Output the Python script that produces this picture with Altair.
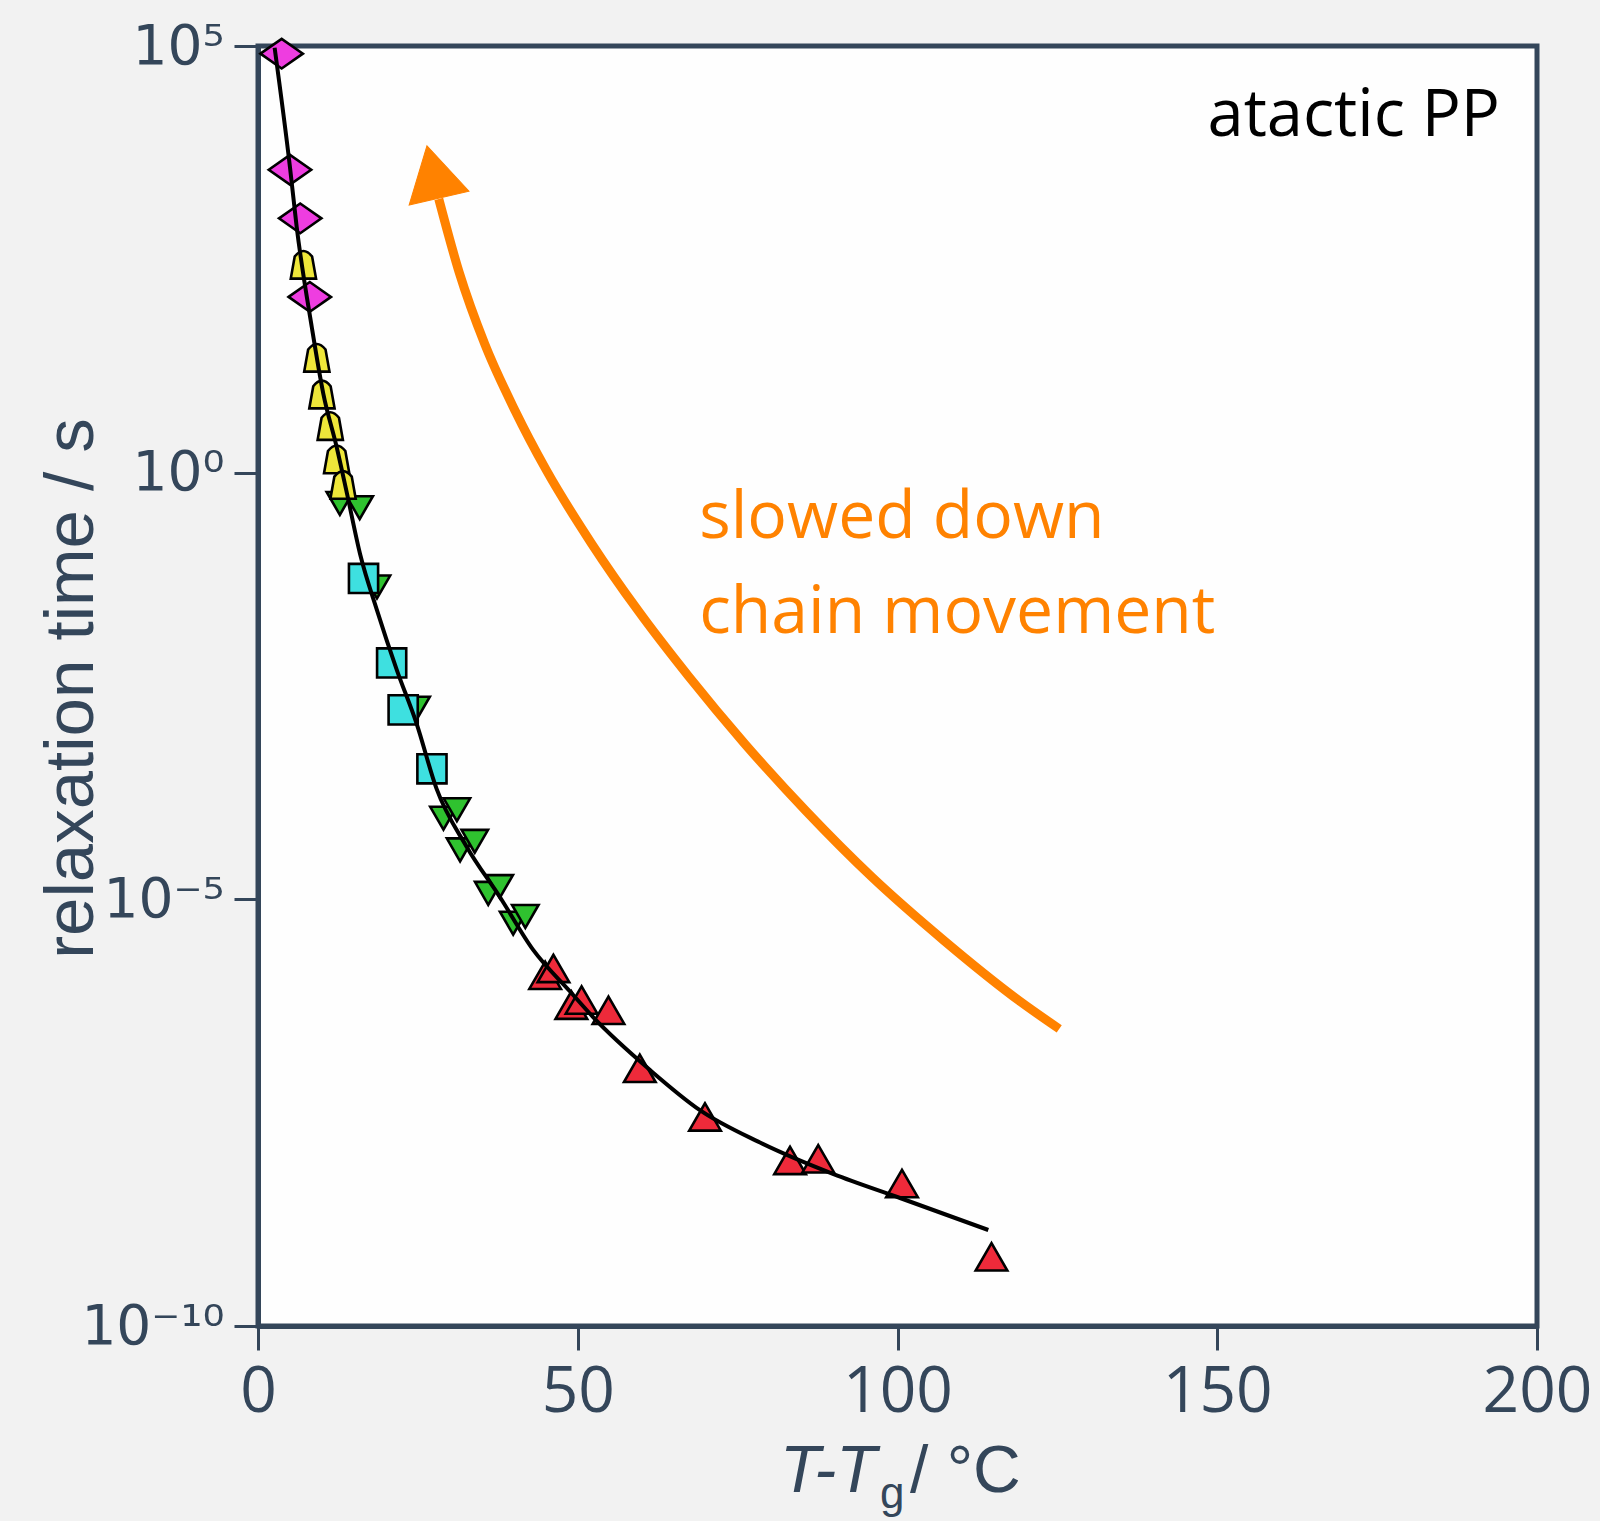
import altair as alt
import pandas as pd

AXIS = "#34465a"
ORANGE = "#ff8200"
NARROW = "Liberation Sans"

# ---- values: x = T - Tg (°C), e = log10(relaxation time / s)
mag_x = [3.7, 5.0, 6.6, 8.1]
mag_e = [4.91, 3.55, 2.98, 2.06]
yel_x = [7.1, 9.2, 10.0, 11.3, 12.3, 13.3]
yel_e = [2.45, 1.36, 0.93, 0.56, 0.17, -0.13]
cya_x = [16.5, 20.9, 22.7, 27.2]
cya_e = [-1.24, -2.23, -2.78, -3.47]
grn_x = [12.8, 15.9, 18.6, 24.8, 29.0, 31.1, 31.6, 33.9, 36.0, 37.8, 39.9, 41.8]
grn_e = [-0.36, -0.41, -1.34, -2.76, -4.05, -3.95, -4.42, -4.32, -4.93, -4.85, -5.28, -5.20]
red_x = [44.9, 46.2, 49.0, 50.6, 54.8, 59.7, 69.9, 83.2, 87.6, 100.7, 114.7]
red_e = [-5.89, -5.81, -6.24, -6.18, -6.30, -6.98, -7.55, -8.06, -8.04, -8.33, -9.19]

# fitted curve
fit_x = [2.6, 5.0, 6.05, 8.4, 10.2, 12.3, 13.9, 15.95, 18.6, 21.7, 24.8, 27.9, 32.6,
         37.8, 43.0, 48.8, 52.4, 61.3, 69.1, 78.5, 90.0, 100.4, 114.2]
fit_e = [4.98, 3.58, 2.88, 1.71, 0.93, 0.30, -0.24, -0.95, -1.61, -2.31, -2.94, -3.70, -4.38,
         -4.97, -5.59, -6.08, -6.38, -7.0, -7.47, -7.85, -8.22, -8.50, -8.875]

# orange annotation arrow (curve + head)
arr_x = [28.27, 31.46, 35.45, 40.24, 45.02, 52.20, 59.39, 67.36, 76.14, 85.71,
         96.08, 107.25, 119.22, 125.29]
arr_e = [3.207, 2.347, 1.509, 0.720, 0.038, -0.835, -1.612, -2.389, -3.179, -3.967,
         -4.745, -5.482, -6.199, -6.518]
head_x = [27.5]
head_e = [3.48]

x_ticks = [0, 50, 100, 150, 200]
y_ticks = [1e-10, 1e-5, 1, 1e5]

x_scale = alt.Scale(domain=[0, 200], nice=False, zero=False)
y_scale = alt.Scale(type="log", domain=[1e-10, 1e5], nice=False)


def frame(xs, es):
    return pd.DataFrame({"x": xs, "tau": [10 ** e for e in es]})


x_enc = alt.X("x:Q", scale=x_scale,
              axis=alt.Axis(values=x_ticks, title=None, grid=False, labelFlush=False,
                            labelOverlap=False, labelFont="Open Sans", labelFontSize=64,
                            labelColor=AXIS, labelPadding=10, tickSize=24, tickWidth=3,
                            tickColor=AXIS, domainColor=AXIS, domainWidth=5))
y_enc = alt.Y("tau:Q", scale=y_scale,
              axis=alt.Axis(values=y_ticks, grid=False, title="relaxation time / s",
                            labelExpr="datum.value > 1000 ? '10⁵' : datum.value > 0.01 ? '10⁰' : datum.value > 1e-7 ? '10⁻⁵' : '10⁻¹⁰'",
                            labelFont="DejaVu Sans", labelFontSize=55, labelColor=AXIS,
                            labelPadding=10, labelOverlap=False, labelFlush=False,
                            labelBaseline="middle",
                            tickSize=24, tickWidth=3, tickColor=AXIS,
                            domainColor=AXIS, domainWidth=5,
                            titleFont=NARROW, titleFontSize=69, titleFontWeight="normal",
                            titleColor=AXIS, titleAngle=270, titleX=-166, titleY=642,
                            titleAlign="center", titleBaseline="alphabetic"))


def pts(xs, es, shape, size, color):
    return alt.Chart(frame(xs, es)).mark_point(
        shape=shape, size=size, filled=True, fill=color, stroke="black",
        strokeWidth=2.6, opacity=1
    ).encode(x=x_enc, y=y_enc)


BELL = "M-0.8,0.95 L-0.55,-0.45 Q0,-1.15 0.55,-0.45 L0.8,0.95 Z"
WIDE_DIAMOND = "M-1,0 L0,-0.7 L1,0 L0,0.7 Z"
HEAD = "M0,-1 L1,0.75 L-1,0.75 Z"

red = pts(red_x, red_e, "triangle-up", 1000, "#ee2a3a")
grn = pts(grn_x, grn_e, "triangle-down", 700, "#2fc22f")
cya = pts(cya_x, cya_e, "square", 850, "#3ee0e0")
yel = pts(yel_x, yel_e, BELL, 1000, "#eee63a")
mag = pts(mag_x, mag_e, WIDE_DIAMOND, 1800, "#ee3de0")

fit = alt.Chart(frame(fit_x, fit_e)).mark_line(
    color="black", strokeWidth=4, interpolate="monotone"
).encode(x=x_enc, y=y_enc)

arrow = alt.Chart(frame(arr_x, arr_e)).mark_line(
    color=ORANGE, strokeWidth=9, interpolate="monotone"
).encode(x=x_enc, y=y_enc)

head = alt.Chart(frame(head_x, head_e)).mark_point(
    shape=HEAD, size=3770, angle=347, filled=True, fill=ORANGE, stroke=ORANGE,
    strokeWidth=1, opacity=1
).encode(x=x_enc, y=y_enc)

label_df = pd.DataFrame({"x": [194.2], "tau": [10 ** 3.945], "t": ["atactic PP"]})
label = alt.Chart(label_df).mark_text(
    font="Open Sans", fontSize=65, color="black", align="right", baseline="alphabetic"
).encode(x=x_enc, y=y_enc, text="t:N")

note_df = pd.DataFrame({"x": [69.0, 69.0], "tau": [10 ** -0.766, 10 ** -1.88],
                        "t": ["slowed down", "chain movement"]})
note = alt.Chart(note_df).mark_text(
    font="Open Sans", fontSize=66, color=ORANGE, align="left", baseline="alphabetic"
).encode(x=x_enc, y=y_enc, text="t:N")

# x-axis title pieces: "T-T" italic, subscript "g", " / °C"
xt1 = alt.Chart(pd.DataFrame({"t": ["T-T"]})).mark_text(
    font=NARROW, fontSize=66, fontStyle="italic", color=AXIS, align="left",
    baseline="alphabetic"
).encode(x=alt.value(522), y=alt.value(1446), text="t:N")
xt2 = alt.Chart(pd.DataFrame({"t": ["g"]})).mark_text(
    font=NARROW, fontSize=44, color=AXIS, align="left", baseline="alphabetic"
).encode(x=alt.value(622), y=alt.value(1462), text="t:N")
xt3 = alt.Chart(pd.DataFrame({"t": ["/ °C"]})).mark_text(
    font=NARROW, fontSize=66, color=AXIS, align="left", baseline="alphabetic"
).encode(x=alt.value(652), y=alt.value(1446), text="t:N")

chart = alt.layer(
    red, grn, cya, yel, mag, fit, arrow, head, label, note, xt1, xt2, xt3
).properties(
    width=1279, height=1280,
    autosize=alt.AutoSizeParams(type="none"),
    padding={"left": 258, "top": 46, "right": 63, "bottom": 195},
    background="#f2f2f2",
).configure_view(
    fill="#fefefe", stroke=AXIS, strokeWidth=5
)

chart.save("out.html", embed_options={"renderer": "svg", "actions": False})
